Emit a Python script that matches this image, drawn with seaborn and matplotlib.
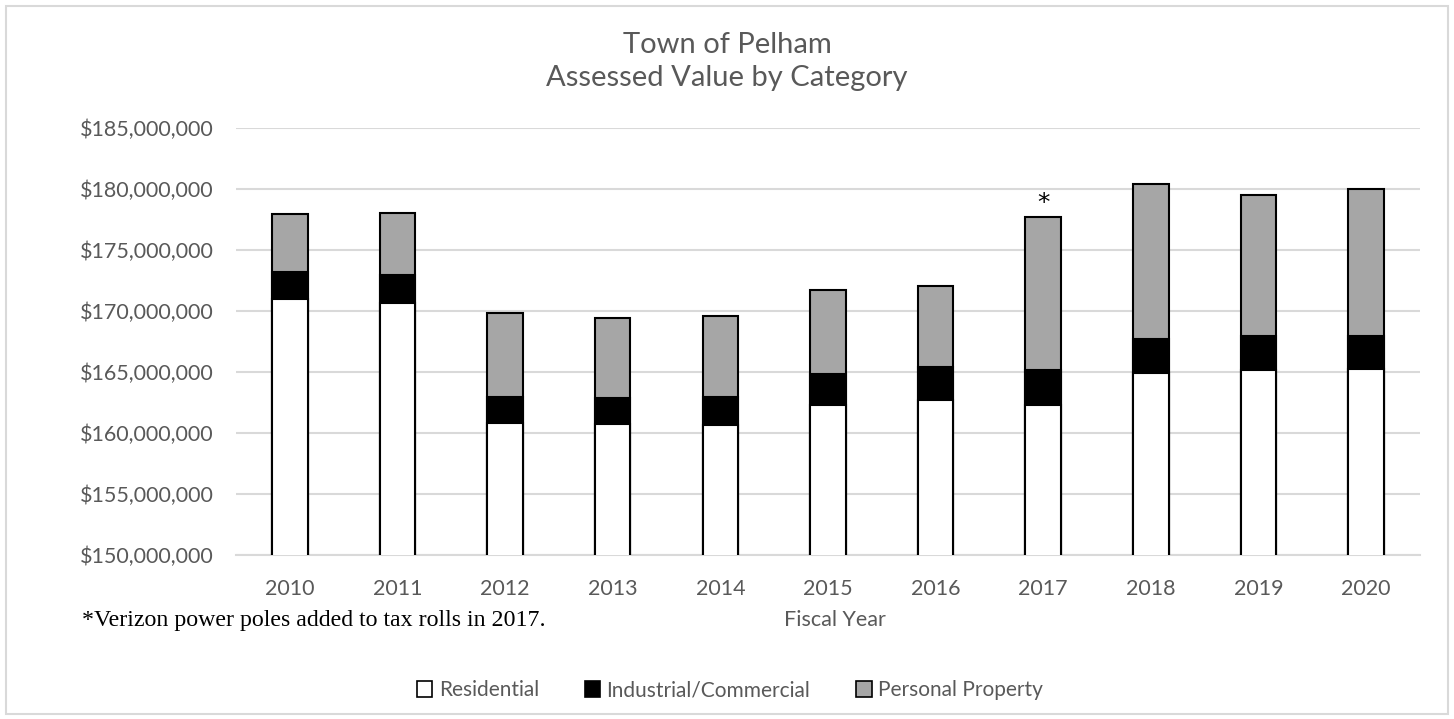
import numpy as np
import pandas as pd
import matplotlib.pyplot as plt
import seaborn as sns
from matplotlib.patches import Patch, Rectangle

# values (dollars)
years = ['2010', '2011', '2012', '2013', '2014', '2015', '2016', '2017', '2018', '2019', '2020']
residential = [170_980_000, 170_630_000, 160_850_000, 160_770_000, 160_630_000, 162_270_000,
               162_680_000, 162_270_000, 164_950_000, 165_160_000, 165_250_000]
industrial = [2_220_000, 2_300_000, 2_130_000, 2_100_000, 2_320_000, 2_570_000,
              2_730_000, 2_870_000, 2_780_000, 2_820_000, 2_740_000]
personal = [4_750_000, 5_130_000, 6_860_000, 6_580_000, 6_640_000, 6_880_000,
            6_670_000, 12_540_000, 12_650_000, 11_560_000, 11_980_000]
categories = ['Residential', 'Industrial/Commercial', 'Personal Property']
colors = ['#FFFFFF', '#000000', '#A6A6A6']

df = pd.DataFrame({'Year': years, 'Residential': residential,
                   'Industrial/Commercial': industrial, 'Personal Property': personal})
# cumulative heights for layered (stacked) bars
df['cum_res'] = df['Residential']
df['cum_ind'] = df['cum_res'] + df['Industrial/Commercial']
df['cum_tot'] = df['cum_ind'] + df['Personal Property']

sns.set_style('white')
plt.rcParams['font.family'] = ['Lato', 'DejaVu Sans']
txt = '#595959'

fig = plt.figure(figsize=(14.54, 7.19), dpi=100)
ax = fig.add_axes([0.1623, 0.2281, 0.8143, 0.5939])

for col, c in zip(['cum_tot', 'cum_ind', 'cum_res'], colors[::-1]):
    sns.barplot(data=df, x='Year', y=col, order=years, color=c, saturation=1,
                width=0.33, edgecolor='black', linewidth=1.5, ax=ax, zorder=3)

ax.set_ylim(150_000_000, 185_000_000)
ax.set_xlim(-0.5, len(years) - 0.5)
ax.set_yticks(np.arange(150_000_000, 185_000_001, 5_000_000))
ax.yaxis.set_major_formatter(plt.FuncFormatter(lambda v, p: f'${v:,.0f}'))
ax.grid(axis='y', color='#D9D9D9', linewidth=1.5, zorder=0)
ax.set_axisbelow(True)
for s in ['top', 'right', 'left']:
    ax.spines[s].set_visible(False)
ax.spines['bottom'].set_color('#D9D9D9')
ax.spines['bottom'].set_linewidth(1.5)
ax.tick_params(axis='both', length=0, labelsize=15.5, labelcolor=txt)
ax.tick_params(axis='y', pad=16)
ax.tick_params(axis='x', pad=17)
ax.set_xlabel('')
ax.set_ylabel('')

# asterisk over 2017
i17 = years.index('2017')
ax.annotate('*', (i17, df['cum_tot'][i17]), xytext=(0, 2), textcoords='offset points',
            ha='center', va='bottom', fontsize=18, color='black', family='DejaVu Sans')

fig.text(0.5, 0.937, 'Town of Pelham', ha='center', va='center', fontsize=21, color=txt)
fig.text(0.5, 0.891, 'Assessed Value by Category', ha='center', va='center', fontsize=21, color=txt)
fig.text(0.574, 0.137, 'Fiscal Year', ha='center', va='center', fontsize=15.5, color=txt)
fig.text(0.0564, 0.137, '*Verizon power poles added to tax rolls in 2017.', ha='left', va='center',
         fontsize=17.2, color='black', family=['Liberation Serif', 'DejaVu Serif'])

handles = [Patch(facecolor=c, edgecolor='black', linewidth=1.2) for c in colors]
fig.legend(handles, categories, loc='center', bbox_to_anchor=(0.502, 0.04), ncol=3,
           frameon=False, fontsize=15, labelcolor=txt, handlelength=0.75, handleheight=0.75,
           handletextpad=0.3, columnspacing=2.2)

fig.patches.append(Rectangle((0.004, 0.007), 0.992, 0.985, transform=fig.transFigure,
                             fill=False, edgecolor='#D9D9D9', linewidth=1.5))

fig.savefig('out.png', dpi=100)
